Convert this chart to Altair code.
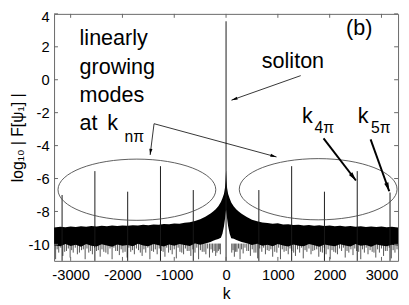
import math
import altair as alt
import pandas as pd

FONT = "Liberation Sans"
W, H = 351, 252
K_DOMAIN = [-3320, 3320]
Y_DOMAIN = [-11, 4]
K_TICKS = [-3000, -2000, -1000, 0, 1000, 2000, 3000]
Y_TICKS = [-10, -8, -6, -4, -2, 0, 2, 4]

# noise band (upper / lower edge of the dense black region)
band_k = [-3320, -3200, -3100, -3000, -2900, -2800, -2700, -2600, -2500, -2400,
          -2300, -2200, -2100, -2000, -1900, -1800, -1700, -1600, -1500, -1400,
          -1300, -1200, -1100, -1000, -900, -800, -700, -600, -500, -400,
          -300, -250, -200, -150, -100, -70, -40, -20, -10, 0,
          10, 20, 40, 70, 100, 150, 200, 250, 300, 400,
          500, 600, 700, 800, 900, 1000, 1100, 1200, 1300, 1400,
          1500, 1600, 1700, 1800, 1900, 2000, 2100, 2200, 2300, 2400,
          2500, 2600, 2700, 2800, 2900, 3000, 3100, 3200, 3320]
band_upper = [-8.97, -8.93, -8.96, -8.91, -8.94, -8.90, -8.93, -8.89, -8.92, -8.87,
              -8.90, -8.86, -8.89, -8.85, -8.87, -8.83, -8.86, -8.81, -8.84, -8.79,
              -8.81, -8.76, -8.78, -8.73, -8.74, -8.68, -8.66, -8.58, -8.48, -8.32,
              -8.12, -8.00, -7.86, -7.68, -7.42, -7.20, -6.92, -6.55, -6.10, -5.50,
              -6.12, -6.58, -6.94, -7.22, -7.45, -7.70, -7.88, -8.02, -8.14, -8.34,
              -8.50, -8.60, -8.67, -8.70, -8.75, -8.72, -8.79, -8.77, -8.82, -8.80,
              -8.85, -8.82, -8.87, -8.84, -8.88, -8.86, -8.90, -8.87, -8.91, -8.89,
              -8.93, -8.90, -8.94, -8.91, -8.95, -8.92, -8.96, -8.93, -8.97]
band_lower = [-10.05, -10.12, -9.98, -10.10, -10.02, -10.15, -9.97, -10.08, -10.13, -9.99,
              -10.06, -10.14, -10.00, -10.09, -10.03, -10.12, -9.96, -10.07, -10.11, -9.98,
              -10.05, -10.13, -10.01, -10.08, -9.97, -10.04, -10.10, -9.95, -10.02, -9.94,
              -9.85, -9.78, -9.72, -9.68, -9.60, -9.35, -8.90, -8.45, -8.15, -7.90,
              -8.15, -8.45, -8.90, -9.35, -9.62, -9.66, -9.73, -9.80, -9.86, -9.93,
              -10.03, -9.96, -10.09, -10.02, -10.12, -9.98, -10.06, -10.13, -10.00, -10.08,
              -10.11, -9.97, -10.05, -10.14, -10.01, -10.07, -10.12, -9.99, -10.06, -10.13,
              -9.98, -10.09, -10.03, -10.14, -10.00, -10.07, -10.11, -10.02, -10.06]

# downward excursions of the noise (long ones)
whisker_k = [-3290, -3230, -3150, -3080, -3010, -2950, -2870, -2790, -2720, -2650,
             -2580, -2500, -2430, -2360, -2280, -2200, -2130, -2060, -1990, -1910,
             -1840, -1770, -1690, -1620, -1550, -1470, -1400, -1330, -1250, -1180,
             -1110, -1040, -960, -890, -820, -750, -680, -600, -530, -460,
             -390, -320, -260, -200, -150, -110,
             110, 160, 210, 270, 330, 400, 470, 540, 610, 690,
             760, 830, 900, 980, 1050, 1120, 1200, 1270, 1340, 1420,
             1490, 1560, 1640, 1710, 1790, 1860, 1930, 2010, 2080, 2150,
             2230, 2300, 2370, 2450, 2520, 2600, 2670, 2740, 2820, 2890,
             2960, 3040, 3110, 3190, 3260]
whisker_bottom = [-10.9, -10.5, -10.7, -10.4, -10.8, -10.5, -10.6, -10.35, -10.9, -10.5,
                  -10.6, -10.4, -10.75, -10.45, -10.6, -10.9, -10.4, -10.65, -10.5, -10.8,
                  -10.45, -10.6, -10.35, -10.7, -10.5, -10.9, -10.45, -10.6, -10.4, -10.75,
                  -10.5, -10.6, -10.85, -10.45, -10.6, -10.4, -10.7, -10.5, -10.9, -10.45,
                  -10.6, -10.8, -10.5, -10.7, -10.4, -10.6,
                  -10.5, -10.75, -10.45, -10.9, -10.55, -10.4, -10.7, -10.5, -10.85, -10.45,
                  -10.6, -10.4, -10.75, -10.5, -10.9, -10.45, -10.6, -10.4, -10.7, -10.5,
                  -10.85, -10.45, -10.6, -10.35, -10.75, -10.5, -10.6, -10.9, -10.45, -10.6,
                  -10.4, -10.8, -10.5, -10.65, -10.4, -10.9, -10.5, -10.6, -10.45, -10.8,
                  -10.5, -10.7, -10.4, -10.85, -10.5]
# shorter excursions in between
minor_k = [-3260, -3190, -3115, -3045, -2980, -2910, -2830, -2755, -2685, -2615,
           -2540, -2465, -2395, -2320, -2240, -2165, -2095, -2025, -1950, -1875,
           -1805, -1730, -1655, -1585, -1510, -1435, -1365, -1290, -1215, -1145,
           -1075, -1000, -925, -855, -785, -715, -640, -565, -495, -425,
           -355, -290, -230, -175, -130,
           135, 185, 240, 300, 365, 435, 505, 575, 650, 725,
           795, 865, 940, 1015, 1085, 1160, 1235, 1305, 1380, 1455,
           1525, 1600, 1675, 1750, 1825, 1895, 1970, 2045, 2115, 2190,
           2265, 2335, 2410, 2485, 2560, 2635, 2705, 2780, 2855, 2925,
           3000, 3075, 3150, 3225, 3300]
minor_bottom = [-10.3, -10.2, -10.45, -10.25, -10.35, -10.2, -10.5, -10.3, -10.25, -10.4,
                -10.2, -10.35, -10.3, -10.5, -10.25, -10.2, -10.4, -10.3, -10.45, -10.2,
                -10.35, -10.25, -10.5, -10.3, -10.2, -10.4, -10.3, -10.25, -10.45, -10.2,
                -10.35, -10.3, -10.2, -10.5, -10.25, -10.4, -10.3, -10.2, -10.35, -10.45,
                -10.25, -10.3, -10.4, -10.5, -10.3,
                -10.35, -10.45, -10.25, -10.3, -10.2, -10.4, -10.3, -10.5, -10.25, -10.2,
                -10.35, -10.3, -10.45, -10.2, -10.3, -10.4, -10.25, -10.5, -10.3, -10.2,
                -10.35, -10.25, -10.4, -10.3, -10.45, -10.2, -10.3, -10.35, -10.5, -10.25,
                -10.2, -10.4, -10.3, -10.25, -10.45, -10.3, -10.2, -10.35, -10.5, -10.3,
                -10.25, -10.4, -10.2, -10.35, -10.3]
WHISKER_TOP = -9.95

# linearly growing modes at k_{n pi} and the soliton peak
spike_k = [-3165, -2532, -1899, -1266, -633, 0, 633, 1266, 1899, 2532, 3165]
spike_top = [-7.0, -5.55, -6.8, -5.25, -6.7, 3.55, -6.7, -5.25, -6.8, -5.55, -6.85]

# annotations
ell_k = [-1721, 1778]
ell_y = [-6.68, -6.65]
ELL_SHAPE = "M-1,0A1,0.388,0,1,1,1,0A1,0.388,0,1,1,-1,0Z"
ELL_SIZE = 161 ** 2

arrow_k1 = [1441, -1390, -1390, 1882, 2790]
arrow_y1 = [0.25, -2.67, -2.67, -3.56, -3.62]
arrow_k2 = [104, -1466, 974, 2507, 3150]
arrow_y2 = [-1.24, -4.57, -4.69, -6.12, -6.77]
arrow_w = [0.8, 0.8, 0.8, 2.0, 2.0]
arrow_head = [70, 70, 70, 140, 140]
HEAD_SHAPE = "M0,0L0.38,1.5L-0.38,1.5Z"

label_text = ["linearly", "growing", "modes", "at", "k", "nπ", "soliton", "(b)",
              "k", "4π", "k", "5π"]
label_k = [-2828, -2828, -2828, -2828, -2293, -1958, 690, 2317, 1466, 1706, 2544, 2796]
label_y = [2.10, 0.37, -1.36, -3.08, -3.08, -3.78, 0.73, 2.69, -2.61, -3.26, -2.61, -3.26]
label_fs = [22, 22, 22, 22, 22, 16, 22, 22, 22, 16, 22, 16]

# ---------------------------------------------------------------
xs = alt.Scale(domain=K_DOMAIN, nice=False, zero=False)
ys = alt.Scale(domain=Y_DOMAIN, nice=False, zero=False)
px_per_k = W / (K_DOMAIN[1] - K_DOMAIN[0])
px_per_y = H / (Y_DOMAIN[1] - Y_DOMAIN[0])

band = pd.DataFrame({"k": band_k, "u": band_upper, "l": band_lower})
whisk = pd.DataFrame({"k": whisker_k + minor_k,
                      "b": whisker_bottom + minor_bottom,
                      "t": [WHISKER_TOP] * (len(whisker_k) + len(minor_k))})
spikes = pd.DataFrame({"k": spike_k, "t": spike_top, "b": [Y_DOMAIN[0]] * len(spike_k)})
ells = pd.DataFrame({"k": ell_k, "y": ell_y})
angles = []
for a, b, c, d in zip(arrow_k1, arrow_y1, arrow_k2, arrow_y2):
    dx = (c - a) * px_per_k
    dy = -(d - b) * px_per_y
    angles.append(math.degrees(math.atan2(dx, -dy)) % 360)
arrows = pd.DataFrame({"k1": arrow_k1, "y1": arrow_y1, "k2": arrow_k2, "y2": arrow_y2,
                       "w": arrow_w, "hs": arrow_head, "ang": angles})
labels = pd.DataFrame({"t": label_text, "k": label_k, "y": label_y, "fs": label_fs})
xt = pd.DataFrame({"k": K_TICKS})
yt = pd.DataFrame({"y": Y_TICKS})

x_axis = alt.Axis(values=K_TICKS, labelExpr="'' + datum.value", title="k",
                  ticks=False, domain=False, grid=False, labelPadding=7, titlePadding=3,
                  labelFontSize=15, titleFontSize=16, labelFont=FONT, titleFont=FONT,
                  titleFontWeight="normal", labelColor="black", titleColor="black",
                  labelFlush=False)
y_axis = alt.Axis(values=Y_TICKS, labelExpr="'' + datum.value", title="log₁₀ | F[ψ₁] |",
                  ticks=False, domain=False, grid=False, labelPadding=5, titlePadding=3,
                  labelFontSize=15, titleFontSize=16, labelFont=FONT, titleFont=FONT,
                  titleFontWeight="normal", labelColor="black", titleColor="black",
                  labelFlush=False,
                  labelOffset={"condition": {"test": "datum.value == 4", "value": 3},
                               "value": 0})


def X(f):
    return alt.X(f, type="quantitative", scale=xs, axis=x_axis)


def Y(f):
    return alt.Y(f, type="quantitative", scale=ys, axis=y_axis)


band_layer = alt.Chart(band).mark_area(color="black", interpolate="linear", clip=True).encode(
    x=X("k"), y=Y("u"), y2="l:Q",
)
whisk_layer = alt.Chart(whisk).mark_rule(color="black", strokeWidth=0.9, opacity=0.75).encode(
    x=X("k"), y=Y("t"), y2="b:Q",
)
spike_layer = alt.Chart(spikes).mark_rule(color="#1a1a1a", strokeWidth=1).encode(
    x=X("k"), y=Y("t"), y2="b:Q",
)
ell_layer = alt.Chart(ells).mark_point(shape=ELL_SHAPE, filled=False, color="#4a4a4a",
                                       strokeWidth=0.9, size=ELL_SIZE, opacity=1).encode(
    x=X("k"), y=Y("y"),
)
arrow_layer = alt.Chart(arrows).mark_rule(color="black").encode(
    x=X("k1"), y=Y("y1"), x2="k2:Q", y2="y2:Q",
    strokeWidth=alt.StrokeWidth("w:Q", scale=None, legend=None),
)
head_layer = alt.Chart(arrows).mark_point(shape=HEAD_SHAPE, filled=True, color="black",
                                          opacity=1, strokeWidth=0).encode(
    x=X("k2"), y=Y("y2"),
    angle=alt.Angle("ang:Q", scale=None),
    size=alt.Size("hs:Q", scale=None, legend=None),
)
text_layer = alt.Chart(labels).mark_text(align="left", baseline="alphabetic", font=FONT,
                                         color="black").encode(
    x=X("k"), y=Y("y"), text="t:N",
    size=alt.Size("fs:Q", scale=None, legend=None),
)
TICK_COLOR = "#666666"
xtick_bottom = alt.Chart(xt).mark_rule(color=TICK_COLOR, strokeWidth=1).encode(
    x=X("k"), y=alt.value(H), y2=alt.value(H - 4))
xtick_top = alt.Chart(xt).mark_rule(color=TICK_COLOR, strokeWidth=1).encode(
    x=X("k"), y=alt.value(0), y2=alt.value(4))
ytick_left = alt.Chart(yt).mark_rule(color=TICK_COLOR, strokeWidth=1).encode(
    y=Y("y"), x=alt.value(0), x2=alt.value(4))
ytick_right = alt.Chart(yt).mark_rule(color=TICK_COLOR, strokeWidth=1).encode(
    y=Y("y"), x=alt.value(W - 4), x2=alt.value(W))

chart = alt.layer(
    band_layer, whisk_layer, spike_layer, ell_layer, arrow_layer, head_layer,
    text_layer, xtick_bottom, xtick_top, ytick_left, ytick_right,
).properties(
    width=W, height=H,
    autosize=alt.AutoSizeParams(type="none"),
    padding={"left": 47, "top": 3, "right": 3, "bottom": 40},
).configure_view(stroke="#666666", strokeWidth=1)

chart.save("out.html", embed_options={"renderer": "svg", "actions": False})
